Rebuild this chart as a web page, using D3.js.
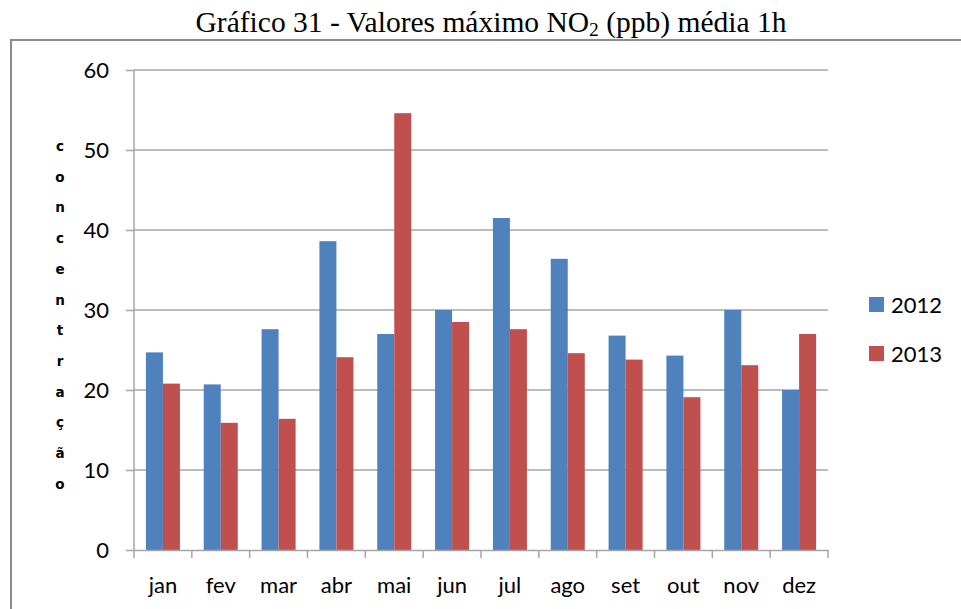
<!DOCTYPE html>
<html>
<head>
<meta charset="utf-8">
<script src="https://cdn.jsdelivr.net/npm/d3@7"></script>
<style>
  html, body { margin: 0; padding: 0; background: #fff; }
  svg { display: block; }
</style>
</head>
<body>
<svg id="chart" width="961" height="609"></svg>
<script>
// Monthly maximum 1h NO2 values (ppb)
const months = ["jan", "fev", "mar", "abr", "mai", "jun", "jul", "ago", "set", "out", "nov", "dez"];
const seriesNames = ["2012", "2013"];
const values2012 = [24.7, 20.7, 27.6, 38.6, 27.0, 30.0, 41.5, 36.4, 26.8, 24.3, 30.0, 20.0];
const values2013 = [20.8, 15.9, 16.4, 24.1, 54.6, 28.5, 27.6, 24.6, 23.8, 19.1, 23.1, 27.0];
const yTicks = [0, 10, 20, 30, 40, 50, 60];
const axisTitle = "concentração";

const colors = { "2012": "#4F81BD", "2013": "#C0504D" };
const tickFont = "Lato, 'Open Sans', sans-serif";

const svg = d3.select("#chart");

// outer frame
svg.append("path")
  .attr("d", "M11,615 L11,40 L970,40")
  .attr("fill", "none")
  .attr("stroke", "#8c8c8c")
  .attr("stroke-width", 2);

// title
const title = svg.append("text")
  .attr("x", 491).attr("y", 32)
  .attr("text-anchor", "middle")
  .attr("font-family", "'Liberation Serif', 'Times New Roman', serif")
  .attr("font-size", 29.5)
  .attr("fill", "#000");
title.append("tspan").text("Gráfico 31 - Valores máximo NO");
title.append("tspan").attr("font-size", 19.5).attr("dy", 4).text("2");
title.append("tspan").attr("dy", -4).text(" (ppb) média 1h");

const margin = { left: 134, right: 828, top: 70, bottom: 550 };

const x = d3.scaleBand().domain(months).range([margin.left, margin.right]).paddingInner(0).paddingOuter(0);
const xInner = d3.scaleBand().domain(seriesNames).range([0, x.bandwidth()]).paddingInner(0).paddingOuter(0.7);
const y = d3.scaleLinear().domain([0, 60]).range([margin.bottom, margin.top]);

// gridlines
svg.append("g").selectAll("line").data(yTicks.filter(d => d > 0)).join("line")
  .attr("x1", margin.left).attr("x2", margin.right)
  .attr("y1", d => y(d)).attr("y2", d => y(d))
  .attr("stroke", "#a6a6a6").attr("stroke-width", 1.5);

// bars
const rows = months.map((m, i) => ({ month: m, "2012": values2012[i], "2013": values2013[i] }));
const groups = svg.append("g").selectAll("g").data(rows).join("g")
  .attr("transform", d => `translate(${x(d.month)},0)`);
groups.selectAll("rect").data(d => seriesNames.map(s => ({ s, v: d[s] }))).join("rect")
  .attr("x", d => xInner(d.s))
  .attr("width", xInner.bandwidth())
  .attr("y", d => y(d.v))
  .attr("height", d => y(0) - y(d.v))
  .attr("fill", d => colors[d.s]);

// y axis
const yAxis = svg.append("g")
  .attr("transform", `translate(${margin.left},0)`)
  .call(d3.axisLeft(y).tickValues(yTicks).tickSize(8).tickPadding(17).tickFormat(d3.format("d")));
yAxis.select(".domain").attr("stroke", "#a6a6a6").attr("stroke-width", 1.5).attr("d", `M0,${margin.top}V${margin.bottom}`);
yAxis.selectAll(".tick line").attr("stroke", "#a6a6a6").attr("stroke-width", 1.5);
yAxis.selectAll(".tick text").attr("font-family", tickFont).attr("font-size", 22).attr("fill", "#000");

// x axis
const xAxis = svg.append("g")
  .attr("transform", `translate(0,${margin.bottom})`)
  .call(d3.axisBottom(x).tickSize(0).tickPadding(27));
xAxis.select(".domain").attr("stroke", "#a6a6a6").attr("stroke-width", 1.5);
xAxis.selectAll(".tick text").attr("font-family", tickFont).attr("font-size", 22).attr("fill", "#000");
// category separator ticks
const bounds = months.map(m => x(m)).concat([margin.right]);
svg.append("g").selectAll("line").data(bounds).join("line")
  .attr("x1", d => d).attr("x2", d => d)
  .attr("y1", margin.bottom).attr("y2", margin.bottom + 8)
  .attr("stroke", "#a6a6a6").attr("stroke-width", 1.5);

// vertical stacked axis title
svg.append("g").selectAll("text").data(axisTitle.split("")).join("text")
  .attr("x", 60)
  .attr("y", (d, i) => 151 + i * 30.7)
  .attr("text-anchor", "middle")
  .attr("font-family", "'DejaVu Sans', Verdana, sans-serif")
  .attr("font-weight", "bold")
  .attr("font-size", 13.5)
  .attr("fill", "#000")
  .text(d => d);

// legend
const legend = svg.append("g").selectAll("g").data(seriesNames).join("g")
  .attr("transform", (d, i) => `translate(869,${297 + i * 49})`);
legend.append("rect").attr("width", 15).attr("height", 15).attr("fill", d => colors[d]);
legend.append("text")
  .attr("x", 22).attr("y", 8).attr("dy", "0.35em")
  .attr("font-family", tickFont).attr("font-size", 22).attr("fill", "#000")
  .text(d => d);
</script>
</body>
</html>
